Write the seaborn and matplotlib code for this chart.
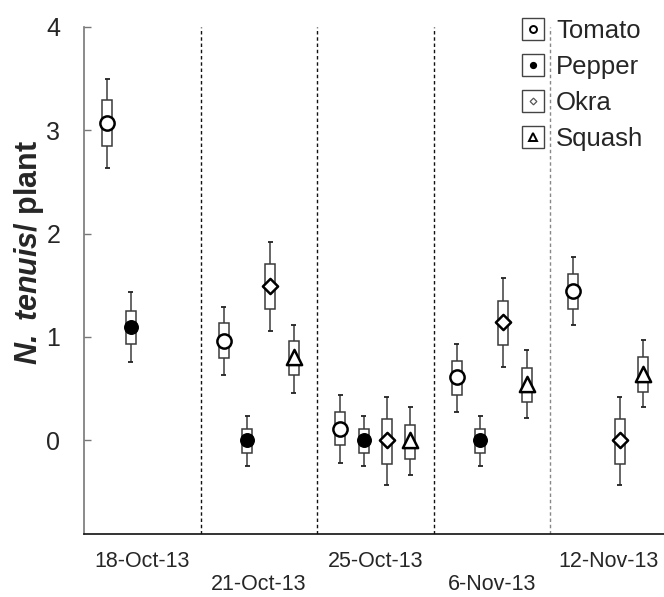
import numpy as np
import pandas as pd
import matplotlib
matplotlib.use("Agg")
import matplotlib.pyplot as plt
from matplotlib.lines import Line2D
import seaborn as sns

# ---- data ----
dates = ["18-Oct-13", "21-Oct-13", "25-Oct-13", "6-Nov-13", "12-Nov-13"]
crops = ["Tomato", "Pepper", "Okra", "Squash"]

# per crop, one value per date (None = not sampled)
mean_tomato = [3.07, 0.96, 0.11, 0.61, 1.44]
mean_pepper = [1.09, 0.00, 0.00, 0.00, None]
mean_okra   = [None, 1.49, 0.00, 1.14, 0.00]
mean_squash = [None, 0.80, 0.00, 0.54, 0.64]

boxlo_tomato = [2.85, 0.79, -0.05, 0.44, 1.27]
boxhi_tomato = [3.29, 1.13, 0.27, 0.77, 1.61]
boxlo_pepper = [0.93, -0.13, -0.13, -0.13, None]
boxhi_pepper = [1.25, 0.11, 0.11, 0.11, None]
boxlo_okra   = [None, 1.27, -0.23, 0.92, -0.23]
boxhi_okra   = [None, 1.70, 0.20, 1.35, 0.20]
boxlo_squash = [None, 0.63, -0.18, 0.37, 0.47]
boxhi_squash = [None, 0.96, 0.15, 0.70, 0.80]

wlo_tomato = [2.63, 0.63, -0.22, 0.27, 1.11]
whi_tomato = [3.50, 1.29, 0.44, 0.93, 1.77]
wlo_pepper = [0.76, -0.25, -0.25, -0.25, None]
whi_pepper = [1.43, 0.23, 0.23, 0.23, None]
wlo_okra   = [None, 1.06, -0.44, 0.71, -0.44]
whi_okra   = [None, 1.92, 0.42, 1.57, 0.42]
wlo_squash = [None, 0.46, -0.34, 0.21, 0.32]
whi_squash = [None, 1.11, 0.32, 0.87, 0.97]

means = {"Tomato": mean_tomato, "Pepper": mean_pepper, "Okra": mean_okra, "Squash": mean_squash}
boxlo = {"Tomato": boxlo_tomato, "Pepper": boxlo_pepper, "Okra": boxlo_okra, "Squash": boxlo_squash}
boxhi = {"Tomato": boxhi_tomato, "Pepper": boxhi_pepper, "Okra": boxhi_okra, "Squash": boxhi_squash}
wlo = {"Tomato": wlo_tomato, "Pepper": wlo_pepper, "Okra": wlo_okra, "Squash": wlo_squash}
whi = {"Tomato": whi_tomato, "Pepper": whi_pepper, "Okra": whi_okra, "Squash": whi_squash}

rows = []
for di, d in enumerate(dates):
    for ci, c in enumerate(crops):
        m = means[c][di]
        if m is None:
            continue
        rows.append(dict(date=d, crop=c, x=di + (ci + 1) / 5.0, mean=m,
                         blo=boxlo[c][di], bhi=boxhi[c][di],
                         wlo=wlo[c][di], whi=whi[c][di]))
df = pd.DataFrame(rows)

# ---- style ----
sns.set_theme(style="white")
plt.rcParams["font.family"] = ["Liberation Sans", "DejaVu Sans"]
plt.rcParams["mathtext.fontset"] = "custom"
plt.rcParams["mathtext.bfit"] = "Liberation Sans:italic:bold"
plt.rcParams["mathtext.it"] = "Liberation Sans:italic"
plt.rcParams["mathtext.bf"] = "Liberation Sans:bold"
plt.rcParams["mathtext.rm"] = "Liberation Sans"

fig = plt.figure(figsize=(6.64, 5.97), dpi=100)
ax = fig.add_axes([84 / 664, 63 / 597, 582.5 / 664, 507 / 597])

box_w = 0.086
edge = "#3a3a3a"
wcol = "#5a5a5a"

# whiskers
ax.vlines(df["x"], df["wlo"], df["whi"], colors=wcol, linewidth=1.3, zorder=2)
cap = 0.022
ax.hlines(df["wlo"], df["x"] - cap, df["x"] + cap, colors="#222222", linewidth=1.3, zorder=2)
ax.hlines(df["whi"], df["x"] - cap, df["x"] + cap, colors="#222222", linewidth=1.3, zorder=2)
# boxes
ax.bar(df["x"], df["bhi"] - df["blo"], bottom=df["blo"], width=box_w,
       facecolor="white", edgecolor=edge, linewidth=1.1, zorder=3)

marker_style = {
    "Tomato": dict(marker="o", color="white", edgecolor="black", s=105, linewidth=1.8),
    "Pepper": dict(marker="o", color="black", edgecolor="black", s=95, linewidth=1.0),
    "Okra":   dict(marker="D", color="white", edgecolor="black", s=60, linewidth=1.8),
    "Squash": dict(marker="^", color="white", edgecolor="black", s=120, linewidth=1.8),
}
for c in crops:
    sub = df[df["crop"] == c]
    sns.scatterplot(data=sub, x="x", y="mean", ax=ax, zorder=4, legend=False,
                    **marker_style[c])

# separators
for i in range(1, len(dates)):
    ax.axvline(i, color="#888888" if i == 4 else "#111111",
               linestyle=(0, (2.5, 2.0)), linewidth=1.0, zorder=1)

ax.set_xlim(0, len(dates))
ax.set_ylim(-0.91, 4.0)
ax.set_yticks([0, 1, 2, 3, 4])
ax.set_yticklabels(["0", "1", "2", "3", "4"], fontsize=18)
ax.set_xticks([i + 0.5 for i in range(len(dates))])
ax.set_xticklabels([d if i % 2 == 0 else "\n" + d for i, d in enumerate(dates)],
                   fontsize=15.5, linespacing=1.15)
ax.tick_params(axis="y", direction="in", length=5, width=1, color="#777777",
               pad=17, left=True)
ax.tick_params(axis="x", length=0, pad=12)
ax.set_xlabel("")
ax.set_ylabel(r"$\mathbfit{N.\ tenuis}$/ plant", fontsize=22, fontweight="bold")
ax.yaxis.set_label_coords(-0.066, 0.556)

for s in ["top", "right"]:
    ax.spines[s].set_visible(False)
ax.spines["left"].set_color("#777777")
ax.spines["left"].set_linewidth(1.2)
ax.spines["bottom"].set_color("#111111")
ax.spines["bottom"].set_linewidth(1.2)

# legend
inner = {
    "Tomato": dict(marker="o", markersize=5.0, mfc="white", mec="black", mew=1.4),
    "Pepper": dict(marker="o", markersize=4.2, mfc="black", mec="black", mew=1.0),
    "Okra":   dict(marker="D", markersize=3.4, mfc="white", mec="#555555", mew=0.9),
    "Squash": dict(marker="^", markersize=5.5, mfc="white", mec="black", mew=1.4),
}
handles = []
for c in crops:
    sq = Line2D([], [], linestyle="none", marker="s", markersize=16.5, mfc="white",
                mec="#444444", mew=1.0)
    mk = Line2D([], [], linestyle="none", **inner[c])
    handles.append((sq, mk))
leg = fig.legend(handles, crops, loc="upper left", bbox_to_anchor=(518 / 664, 1 - 19 / 597),
                 frameon=False, fontsize=18.5, handlelength=1.2, handletextpad=0.28,
                 labelspacing=0.47, borderaxespad=0, borderpad=0)

fig.savefig("out.png", dpi=100)
